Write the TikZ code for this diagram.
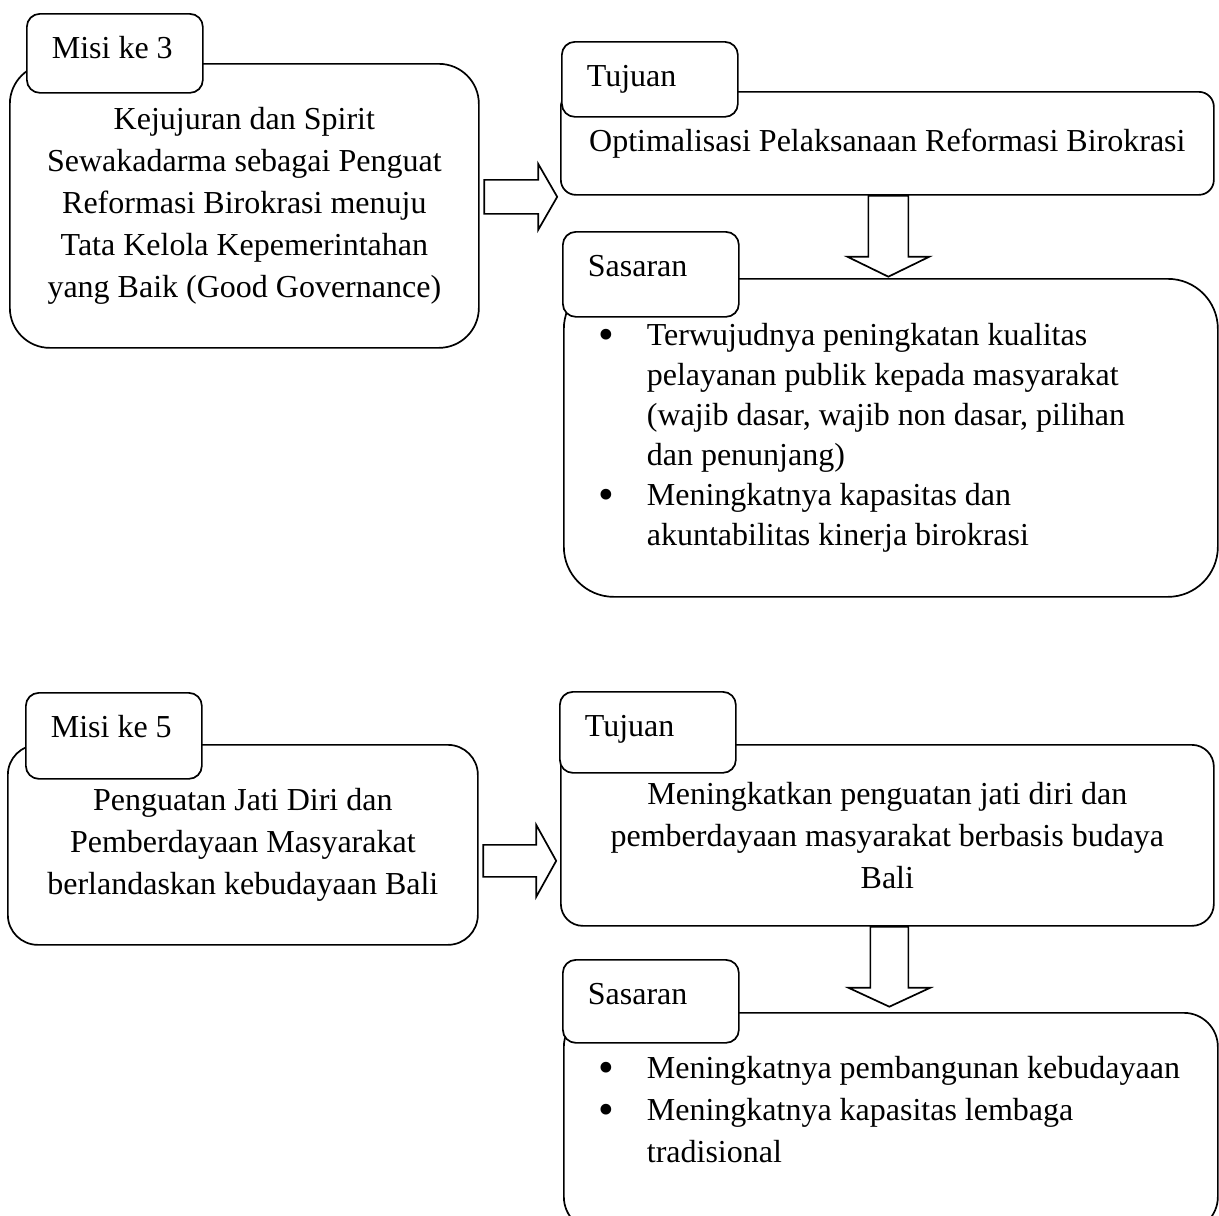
\documentclass[tikz,border=0pt]{standalone}
\usepackage{fontspec}
\usepackage{graphicx}
\setmainfont{Liberation Serif}
\usetikzlibrary{calc}

\newcommand{\bul}{\makebox[22pt]{\raisebox{-4pt}{\scalebox{1.4}{\textbullet}}}}
\newcommand{\tabtext}[1]{\makebox[126pt][l]{#1}}

\tikzset{
  box/.style={draw, fill=white, anchor=north west, inner sep=0pt,
    font=\fontsize{32}{42}\selectfont},
  tab/.style={draw, fill=white, anchor=north west, rounded corners=13pt,
    inner xsep=25pt, inner ysep=0pt, text height=22pt,
    font=\fontsize{32}{40}\selectfont},
  blockarrow/.style={draw, fill=white}
}

\begin{document}
\begin{tikzpicture}[x=1pt, y=-1pt, line width=1.7pt]
	\fill[white] (0,0) rectangle (1219,1216);
	\useasboundingbox (0,0) rectangle (1219,1216);
	\clip (0,0) rectangle (1219,1216);

	% Misi ke 3
	\node[box, align=center, rounded corners=40pt, minimum width=469pt, minimum height=284pt] (misi3) at (9,63)
		{Kejujuran dan Spirit\\Sewakadarma sebagai Penguat\\Reformasi Birokrasi menuju\\Tata Kelola Kepemerintahan\\yang Baik (Good Governance)};
	\node[tab, minimum height=79pt, text depth=12pt] (misi3tab) at (26,13) {\tabtext{Misi ke 3}};

	% Tujuan
	\node[box, align=center, rounded corners=15pt, minimum width=653pt, minimum height=103pt] (tujuan3) at (560,91)
		{Optimalisasi Pelaksanaan Reformasi Birokrasi};
	\node[tab, minimum height=75pt, text depth=8pt] (tujuan3tab) at (561,41) {\tabtext{Tujuan}};

	% Sasaran
	\node[box, rounded corners=50pt, minimum height=318pt, inner xsep=31pt,
		font=\fontsize{32}{40}\selectfont] (sasaran3) at (563,278)
		{\makebox[592pt][l]{\begin{tabular}{@{}l@{\hspace{30pt}}l@{}}
			\bul & Terwujudnya peningkatan kualitas\\
			     & pelayanan publik kepada masyarakat\\
			     & (wajib dasar, wajib non dasar, pilihan\\
			     & dan penunjang)\\
			\bul & Meningkatnya kapasitas dan\\
			     & akuntabilitas kinerja birokrasi
		\end{tabular}}};
	\node[tab, minimum height=85pt, text depth=18pt] (sasaran3tab) at (562,231) {\tabtext{Sasaran}};

	% Arrows
	\draw[blockarrow] (misi3.east) ++(4.5,-26) -- ++(54,0) -- ++(0,-16) -- ++(19,33)
		-- ++(-19,33) -- ++(0,-16) -- ++(-54,0) -- cycle;
	\draw[blockarrow] (tujuan3.south) ++(-19,0) -- ++(0,61) -- ++(-21,0) -- ++(41,20)
		-- ++(41,-20) -- ++(-21,0) -- ++(0,-61) -- cycle;

	% Misi ke 5
	\node[box, align=center, rounded corners=30pt, minimum width=470pt, minimum height=200pt] (misi5) at (7,744)
		{Penguatan Jati Diri dan\\Pemberdayaan Masyarakat\\berlandaskan kebudayaan Bali};
	\node[tab, minimum height=86pt, text depth=19pt] (misi5tab) at (25,692) {\tabtext{Misi ke 5}};

	% Tujuan
	\node[box, align=center, rounded corners=22pt, minimum width=653pt, minimum height=181pt] (tujuan5) at (560,744)
		{Meningkatkan penguatan jati diri dan\\pemberdayaan masyarakat berbasis budaya\\Bali};
	\node[tab, minimum height=81pt, text depth=14pt] (tujuan5tab) at (559,691) {\tabtext{Tujuan}};

	% Sasaran
	\node[box, rounded corners=34pt, minimum height=218pt, inner xsep=31pt,
		text depth=77pt] (sasaran5) at (563,1012)
		{\makebox[592pt][l]{\begin{tabular}{@{}l@{\hspace{30pt}}l@{}}
			\bul & Meningkatnya pembangunan kebudayaan\\
			\bul & Meningkatnya kapasitas lembaga\\
			     & tradisional
		\end{tabular}}};
	\node[tab, minimum height=83pt, text depth=16pt] (sasaran5tab) at (562,959) {\tabtext{Sasaran}};

	% Arrows
	\draw[blockarrow] (misi5.east) ++(4.5,0) -- ++(53,0) -- ++(0,-20) -- ++(20,36)
		-- ++(-20,36) -- ++(0,-20) -- ++(-53,0) -- cycle;
	\draw[blockarrow] (tujuan5.south) ++(-17,0) -- ++(0,61) -- ++(-22,0) -- ++(41,19)
		-- ++(41,-19) -- ++(-22,0) -- ++(0,-61) -- cycle;
\end{tikzpicture}
\end{document}
